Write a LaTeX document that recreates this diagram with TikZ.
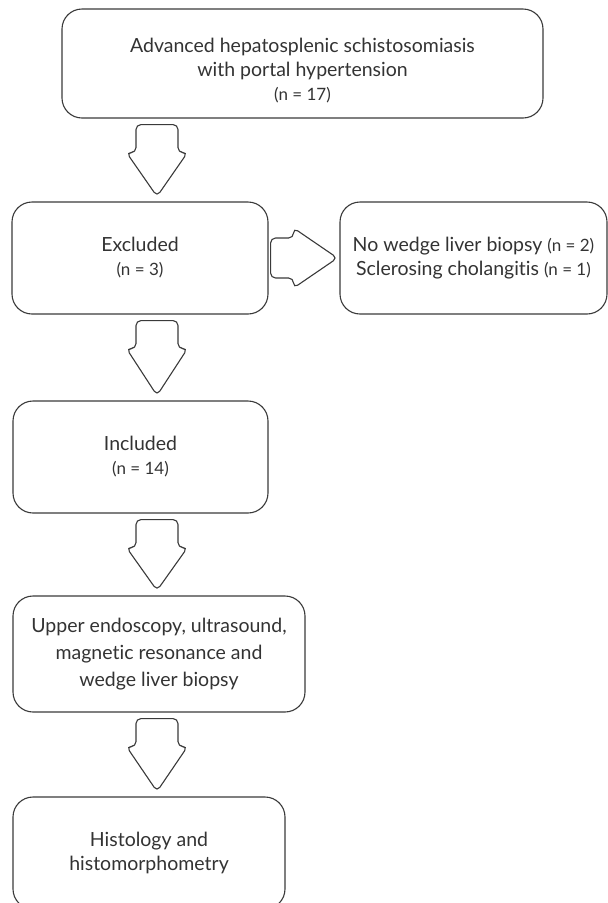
\documentclass[tikz,border=0pt]{standalone}
\usepackage{fontspec}
\setmainfont{Lato}[Ligatures=NoCommon]
\usetikzlibrary{calc}
\definecolor{boxline}{HTML}{3A3A3A}
\definecolor{boxtext}{HTML}{333333}
\tikzset{
  flowbox/.style={draw=boxline, line width=1.1pt, rounded corners=20pt, text=boxtext,
    align=center, inner sep=0pt, font=\fontsize{19.5}{24}\selectfont},
  blockarrow/.style={draw=boxline, line width=1.1pt, rounded corners=5pt, fill=white}
}
\newcommand{\nsz}{\fontsize{17}{22}\selectfont}
\begin{document}
\begin{tikzpicture}[x=1pt,y=-1pt]
\useasboundingbox (0,0) rectangle (608,903);
\node[flowbox, minimum width=481pt, minimum height=109pt] (start) at (302.5,63.5) {\rule{0pt}{28pt}Advanced hepatosplenic schistosomiasis\\ with portal hypertension\\ {\nsz(n = 17)}};
\node[flowbox, minimum width=256pt, minimum height=112pt] (excl) at (140,258) {Excluded\\ {\nsz(n = 3)}};
\node[flowbox, minimum width=267pt, minimum height=112pt] (reason) at (473.5,258) {No wedge liver biopsy {\nsz(n = 2)}\\ Sclerosing cholangitis {\nsz(n = 1)}};
\node[flowbox, minimum width=255pt, minimum height=112pt] (incl) at (140.5,457) {Included\\ {\nsz(n = 14)}};
\node[flowbox, minimum width=292pt, minimum height=116pt, font=\fontsize{19.5}{27}\selectfont] (exam) at (159,654) {Upper endoscopy, ultrasound,\\ magnetic resonance and\\ wedge liver biopsy};
\node[flowbox, minimum width=272pt, minimum height=112pt] (hist) at (149,853) {Histology and\\ histomorphometry};
\foreach \a/\b in {start/excl, excl/incl, incl/exam, exam/hist}
  \path[blockarrow] let \p1=(\a.south), \p2=(\b.north) in
    (157pt,\y1-6pt) -- (178pt,\y1-6pt) -- (178pt,\y1-34pt) -- (187.5pt,\y1-34pt)
    -- (157pt,\y2+5pt) -- (126.5pt,\y1-34pt) -- (136pt,\y1-34pt) -- (136pt,\y1-6pt) -- cycle;
\path[blockarrow] let \p1=(excl.east), \p2=(reason.west) in
  (\x1+2pt,\y1) -- (\x1+2pt,\y1+20pt) -- (\x1+25pt,\y1+20pt) -- (\x1+25pt,\y1+30pt)
  -- (\x2-2pt,\y1) -- (\x1+25pt,\y1-30pt) -- (\x1+25pt,\y1-20pt) -- (\x1+2pt,\y1-20pt) -- cycle;
\end{tikzpicture}
\end{document}
